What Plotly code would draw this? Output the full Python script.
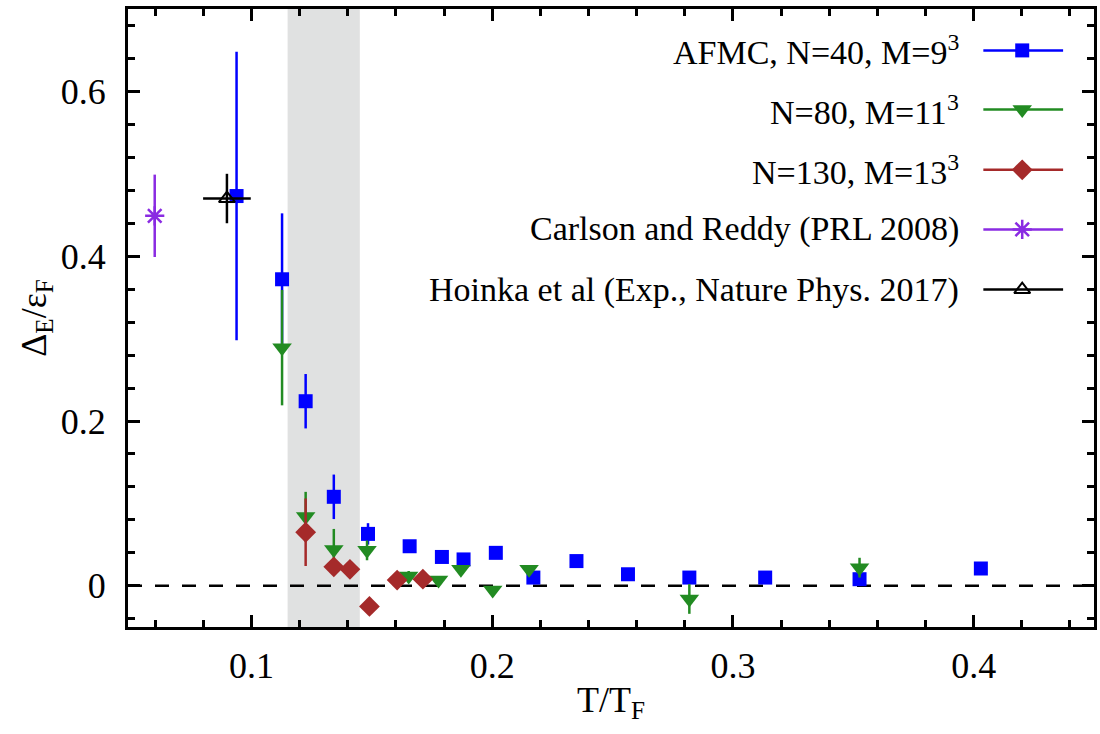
import plotly.graph_objects as go

# ---------------- data ----------------
afmc40_x = [0.0938, 0.1127, 0.1225, 0.1342, 0.1484, 0.1657, 0.1791, 0.1881, 0.2015, 0.2171, 0.2350, 0.2564, 0.2819, 0.3134, 0.3526, 0.4030]
afmc40_y = [0.473, 0.372, 0.224, 0.108, 0.063, 0.048, 0.035, 0.032, 0.040, 0.010, 0.030, 0.014, 0.010, 0.010, 0.008, 0.021]
afmc40_e = [0.175, 0.080, 0.033, 0.027, 0.013, 0.006, 0.004, 0.004, 0.005, 0.004, 0.005, 0.004, 0.003, 0.003, 0.003, 0.003]

afmc80_x = [0.1127, 0.1225, 0.1342, 0.1480, 0.1653, 0.1777, 0.1870, 0.2002, 0.2153, 0.2819, 0.3526]
afmc80_y = [0.289, 0.084, 0.044, 0.043, 0.012, 0.007, 0.020, -0.005, 0.020, -0.016, 0.022]
afmc80_e = [0.070, 0.030, 0.025, 0.012, 0.006, 0.003, 0.004, 0.003, 0.004, 0.018, 0.012]

afmc130_x = [0.1225, 0.1342, 0.1409, 0.1490, 0.1605, 0.1712]
afmc130_y = [0.065, 0.023, 0.020, -0.025, 0.007, 0.008]
afmc130_e = [0.041, 0.005, 0.004, 0.003, 0.003, 0.003]

carlson_x = [0.0598]
carlson_y = [0.449]
carlson_e = [0.050]

hoinka_x = [0.0898]
hoinka_y = [0.470]
hoinka_ex = [0.0099]
hoinka_ey = [0.030]

band = [0.115, 0.145]
x_ticks = [0.1, 0.2, 0.3, 0.4]
y_ticks = [0, 0.2, 0.4, 0.6]

labels = ["AFMC, N=40, M=9<sup>3</sup>", "N=80, M=11<sup>3</sup>", "N=130, M=13<sup>3</sup>",
          "Carlson and Reddy (PRL 2008)", "Hoinka et al (Exp., Nature Phys. 2017)"]

# ---------------- style ----------------
FONT = "Liberation Serif"
FS = 36
FS_LEG = 34
BLUE, GREEN, RED, PURPLE, BLACK = "#0000ff", "#228b22", "#a52a2a", "#8a2be2", "#000000"
styles = [
    dict(color=BLUE, symbol="square", size=14, lw=0),
    dict(color=GREEN, symbol="triangle-down", size=17, lw=0),
    dict(color=RED, symbol="diamond", size=16, lw=0),
    dict(color=PURPLE, symbol="asterisk-open", size=16, lw=2.5),
    dict(color=BLACK, symbol="triangle-up-open", size=14, lw=2),
]

fig = go.Figure()

series = [
    (afmc40_x, afmc40_y, afmc40_e, None),
    (afmc80_x, afmc80_y, afmc80_e, None),
    (afmc130_x, afmc130_y, afmc130_e, None),
    (carlson_x, carlson_y, carlson_e, None),
    (hoinka_x, hoinka_y, hoinka_ey, hoinka_ex),
]
for (xs, ys, ey, ex), st in zip(series, styles):
    tr = dict(
        x=xs, y=ys, mode="markers", showlegend=False,
        marker=dict(color=st["color"], symbol=st["symbol"], size=st["size"],
                    line=dict(width=st["lw"], color=st["color"])),
        error_y=dict(type="data", array=ey, visible=True, color=st["color"], thickness=2.5, width=0),
    )
    if ex is not None:
        tr["error_x"] = dict(type="data", array=ex, visible=True, color=st["color"], thickness=2.5, width=0)
    fig.add_trace(go.Scatter(**tr))

# shaded band & zero line
fig.add_shape(type="rect", xref="x", yref="paper", x0=band[0], x1=band[1], y0=0, y1=1,
              fillcolor="#e0e1e1", line=dict(width=0), layer="below")
fig.add_shape(type="line", xref="paper", yref="y", x0=0, x1=1, y0=0, y1=0,
              line=dict(color="black", width=2.4, dash="14px,13px"), layer="below")

# ---------------- custom legend (text left of sample) ----------------
leg_rows = [50.4, 109.6, 169.8, 229.4, 289.6]
for lab, st, yy in zip(labels, styles, leg_rows):
    fig.add_trace(go.Scatter(
        x=[986, 1066], y=[yy, yy], mode="lines", xaxis="x2", yaxis="y2",
        line=dict(color=st["color"], width=2.5), showlegend=False, hoverinfo="skip"))
    fig.add_trace(go.Scatter(
        x=[1025], y=[yy], mode="markers", xaxis="x2", yaxis="y2", showlegend=False, hoverinfo="skip",
        marker=dict(color=st["color"], symbol=st["symbol"], size=st["size"],
                    line=dict(width=st["lw"], color=st["color"]))))
    fig.add_annotation(x=964, y=yy, xref="x2", yref="y2", text=lab, showarrow=False,
                       xanchor="right", yanchor="middle", font=dict(family=FONT, size=FS_LEG, color="black"))

axis_common = dict(
    ticks="inside", mirror="allticks", showline=True, linecolor="black", linewidth=3,
    tickcolor="black", tickwidth=2.5, ticklen=12, showgrid=False, zeroline=False,
    tickfont=dict(family=FONT, size=FS, color="black"),
)

fig.update_layout(
    width=1100, height=734,
    margin=dict(l=128, r=3, t=9, b=107),
    paper_bgcolor="white", plot_bgcolor="white",
    font=dict(family=FONT, size=FS, color="black"),
    xaxis=dict(range=[0.0487, 0.45], tickvals=x_ticks, ticktext=[str(v) for v in x_ticks],
               minor=dict(ticks="inside", dtick=0.02, tick0=0, ticklen=7, tickwidth=2.5, tickcolor="black"),
               title=dict(text="T/T<sub>F</sub>", font=dict(family=FONT, size=FS), standoff=2),
               ticklabelstandoff=5, **axis_common),
    yaxis=dict(range=[-0.05, 0.7], tickvals=y_ticks, ticktext=["0", "0.2", "0.4", "0.6"],
               minor=dict(ticks="inside", dtick=0.04, tick0=0, ticklen=7, tickwidth=2.5, tickcolor="black"),
               title=dict(text="Δ<sub>E</sub>/ε<sub>F</sub>", font=dict(family=FONT, size=FS), standoff=4),
               ticklabelstandoff=12, **axis_common),
    xaxis2=dict(overlaying="x", anchor="y2", range=[128, 1097], visible=False, fixedrange=True),
    yaxis2=dict(overlaying="y", anchor="x2", range=[627, 9], visible=False, fixedrange=True),
)

fig.write_html("out.html")
